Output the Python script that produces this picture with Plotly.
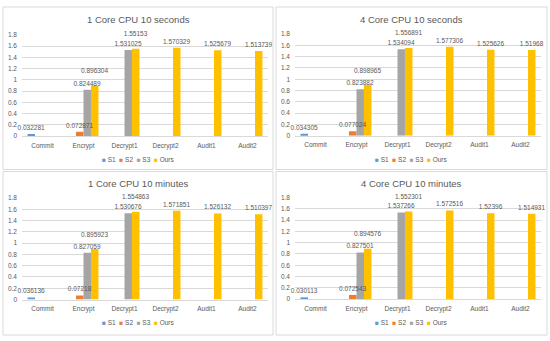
import plotly.graph_objects as go
from plotly.subplots import make_subplots

categories = ["Commit", "Encrypt", "Decrypt1", "Decrypt2", "Audit1", "Audit2"]
series_names = ["S1", "S2", "S3", "Ours"]
series_colors = ["#5B9BD5", "#ED7D31", "#A5A5A5", "#FFC000"]
y_ticks = [0, 0.2, 0.4, 0.6, 0.8, 1, 1.2, 1.4, 1.6, 1.8]

titles = ["1 Core CPU 10 seconds", "4 Core CPU 10 seconds",
          "1 Core CPU 10 minutes", "4 Core CPU 10 minutes"]

# panel 1: 1 Core CPU 10 seconds
p1_s1 = [0.032281, None, None, None, None, None]
p1_s2 = [None, 0.072871, None, None, None, None]
p1_s3 = [None, 0.824489, 1.531025, None, None, None]
p1_ours = [None, 0.896304, 1.55153, 1.570329, 1.525679, 1.513739]
# panel 2: 4 Core CPU 10 seconds
p2_s1 = [0.034305, None, None, None, None, None]
p2_s2 = [None, 0.077024, None, None, None, None]
p2_s3 = [None, 0.823882, 1.534094, None, None, None]
p2_ours = [None, 0.898965, 1.556891, 1.577306, 1.525626, 1.51968]
# panel 3: 1 Core CPU 10 minutes
p3_s1 = [0.036136, None, None, None, None, None]
p3_s2 = [None, 0.07218, None, None, None, None]
p3_s3 = [None, 0.827059, 1.530676, None, None, None]
p3_ours = [None, 0.895923, 1.554863, 1.571851, 1.526132, 1.510397]
# panel 4: 4 Core CPU 10 minutes
p4_s1 = [0.030113, None, None, None, None, None]
p4_s2 = [None, 0.072543, None, None, None, None]
p4_s3 = [None, 0.827501, 1.537266, None, None, None]
p4_ours = [None, 0.894576, 1.552301, 1.572516, 1.52396, 1.514931]

panels = [
    [p1_s1, p1_s2, p1_s3, p1_ours],
    [p2_s1, p2_s2, p2_s3, p2_ours],
    [p3_s1, p3_s2, p3_s3, p3_ours],
    [p4_s1, p4_s2, p4_s3, p4_ours],
]

W, H = 550, 341
FONT = "Liberation Sans"
GREY_TXT = "#595959"
GRID = "#D9D9D9"

def px(x):
    return x / W

def py(y):
    return 1 - y / H

# layout geometry in pixels
frames = [(3, 3, 273, 169), (276, 3, 547, 169), (3, 171, 273, 338), (276, 171, 547, 338)]
plot_x = [(22, 268), (295, 541), (22, 268), (295, 541)]
plot_y = [(31.5, 134.7), (30.8, 134.4), (198, 301.7), (197.7, 301.2)]
title_y = [16, 15.5, 183, 183]
legend_y = [159, 158.5, 325.5, 325.5]

fig = make_subplots(rows=2, cols=2)

def label_texts(vals, other=None):
    """Value labels; a label that would collide with its neighbour is lifted one line."""
    out = []
    for i, v in enumerate(vals):
        if v is None:
            out.append("")
            continue
        t = str(v)
        if other is not None and other[i] is not None and abs(v - other[i]) < 0.1:
            t = t + "<br>\u00a0"
        out.append(t)
    return out

for p, series in enumerate(panels):
    r, c = p // 2 + 1, p % 2 + 1
    # bars
    for k, vals in enumerate(series):
        fig.add_trace(go.Bar(
            x=categories, y=vals, name=series_names[k],
            offsetgroup=str(k),
            marker=dict(color=series_colors[k], line=dict(width=0)),
            showlegend=False, hoverinfo="skip",
        ), row=r, col=c)
    # data labels drawn on top of every bar (same slots, transparent bars)
    for k, vals in enumerate(series):
        other = series[2] if k == 3 else None
        fig.add_trace(go.Bar(
            x=categories, y=vals, name=series_names[k] + " label",
            offsetgroup=str(k),
            marker=dict(color="rgba(0,0,0,0)", line=dict(width=0)),
            text=label_texts(vals, other), textposition="outside",
            textfont=dict(size=6.5, color=GREY_TXT, family=FONT),
            constraintext="none", cliponaxis=False, showlegend=False,
            hoverinfo="skip",
        ), row=r, col=c)

shapes = []
annotations = []
for p in range(4):
    ax = "" if p == 0 else str(p + 1)
    x0, x1 = plot_x[p]
    yt, yb = plot_y[p]
    fig.layout["xaxis" + ax].update(
        domain=[px(x0), px(x1)], showgrid=False, zeroline=False,
        showline=True, linecolor=GRID, linewidth=1, ticks="",
        tickfont=dict(size=6.5, color=GREY_TXT, family=FONT),
        ticklabelstandoff=3, fixedrange=True)
    fig.layout["yaxis" + ax].update(
        domain=[py(yb), py(yt)], range=[0, 1.8], tickvals=y_ticks,
        showgrid=True, gridcolor=GRID, gridwidth=1, zeroline=False,
        showline=False, ticks="",
        tickfont=dict(size=6.5, color=GREY_TXT, family=FONT),
        ticklabelstandoff=4, fixedrange=True)
    fx0, fy0, fx1, fy1 = frames[p]
    shapes.append(dict(type="rect", xref="paper", yref="paper",
                       x0=px(fx0), x1=px(fx1), y0=py(fy1), y1=py(fy0),
                       line=dict(color=GRID, width=1), fillcolor="rgba(0,0,0,0)"))
    cx = (fx0 + fx1) / 2
    annotations.append(dict(text=titles[p], xref="paper", yref="paper",
                            x=px(cx), y=py(title_y[p]), xanchor="center", yanchor="middle",
                            showarrow=False,
                            font=dict(size=9.5, color=GREY_TXT, family=FONT)))
    leg = "&nbsp;&nbsp;".join(
        f'<span style="color:{col}">■</span>&nbsp;{nm}'
        for nm, col in zip(series_names, series_colors))
    annotations.append(dict(text=leg, xref="paper", yref="paper",
                            x=px(cx), y=py(legend_y[p]), xanchor="center", yanchor="middle",
                            showarrow=False,
                            font=dict(size=6.5, color=GREY_TXT, family=FONT)))

fig.update_layout(
    width=W, height=H, margin=dict(l=0, r=0, t=0, b=0),
    paper_bgcolor="white", plot_bgcolor="white",
    barmode="group", bargap=0.27, bargroupgap=0,
    shapes=shapes, annotations=annotations, showlegend=False,
)

fig.write_html("out.html", config={"displayModeBar": False},
               post_script="document.body.style.margin='0';document.body.style.overflow='hidden';")
